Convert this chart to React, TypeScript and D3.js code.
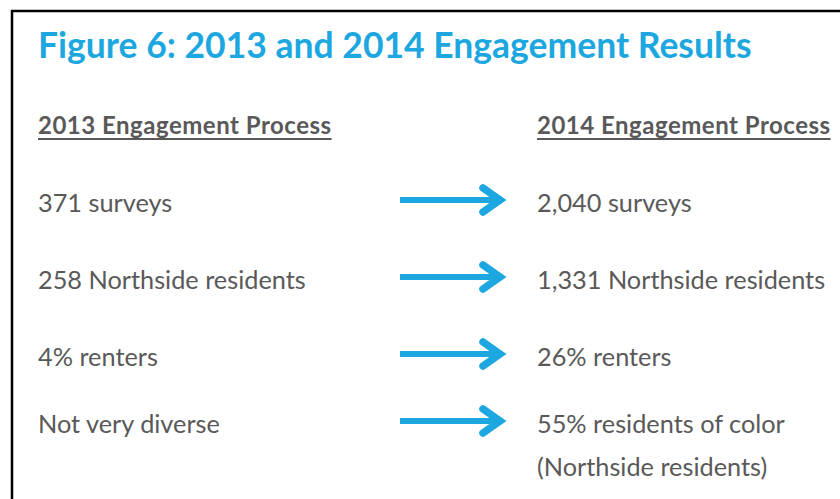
import React, { useEffect, useRef } from 'react';
import * as d3 from 'd3';

const title = 'Figure 6: 2013 and 2014 Engagement Results';
const headers = ['2013 Engagement Process', '2014 Engagement Process'];
const rows = ['surveys', 'residents', 'renters', 'diversity'];
const before2013 = ['371 surveys', '258 Northside residents', '4% renters', 'Not very diverse'];
const after2014 = [
  ['2,040 surveys'],
  ['1,331 Northside residents'],
  ['26% renters'],
  ['55% residents of color', '(Northside residents)'],
];

const W = 840;
const H = 499;
const BLUE = '#1ca7e0';
const GRAY = '#595959';
const FONT = 'Lato, "Open Sans", sans-serif';

const App = () => {
  const ref = useRef<SVGSVGElement>(null);

  useEffect(() => {
    const svg = d3.select(ref.current);
    svg.selectAll('*').remove();

    // frame: top and left edges only
    svg.append('path')
      .attr('d', `M12,${H} L12,11 L${W},11`)
      .attr('fill', 'none')
      .attr('stroke', '#000')
      .attr('stroke-width', 2.5);

    svg.append('text')
      .attr('x', 38)
      .attr('y', 58)
      .attr('fill', BLUE)
      .attr('font-family', FONT)
      .attr('font-weight', 700)
      .attr('font-size', 35.5)
      .text(title);

    const col = d3.scaleOrdinal<number, number>().domain([0, 1]).range([38, 537]);

    // column headers, underlined
    headers.forEach((h, i) => {
      const t = svg.append('text')
        .attr('x', col(i))
        .attr('y', 134)
        .attr('fill', GRAY)
        .attr('font-family', FONT)
        .attr('font-weight', 700)
        .attr('font-size', 24)
        .attr('letter-spacing', 0.5)
        .text(h);
      const w = (t.node() as SVGTextElement).getComputedTextLength();
      svg.append('line')
        .attr('x1', col(i)).attr('x2', col(i) + w)
        .attr('y1', 139).attr('y2', 139)
        .attr('stroke', GRAY)
        .attr('stroke-width', 1.8);
    });

    const rowY = d3.scaleOrdinal<string, number>().domain(rows).range([212, 289, 366, 433]);
    const lineGap = 43;

    rows.forEach((r, i) => {
      const y = rowY(r);
      svg.append('text')
        .attr('x', col(0)).attr('y', y)
        .attr('fill', GRAY)
        .attr('font-family', FONT)
        .attr('font-size', 25.3)
        .text(before2013[i]);

      after2014[i].forEach((line, j) => {
        svg.append('text')
          .attr('x', col(1)).attr('y', y + j * lineGap)
          .attr('fill', GRAY)
          .attr('font-family', FONT)
          .attr('font-size', 25.3)
          .text(line);
      });

      // arrow
      const ay = y - 12;
      const g = svg.append('g').attr('fill', BLUE).attr('stroke', BLUE);
      g.append('rect')
        .attr('x', 400).attr('y', ay - 3)
        .attr('width', 98).attr('height', 6)
        .attr('stroke', 'none');
      g.append('path')
        .attr('d', `M483,${ay - 12} L500,${ay} L483,${ay + 12}`)
        .attr('fill', 'none')
        .attr('stroke-width', 7.5)
        .attr('stroke-linecap', 'round')
        .attr('stroke-linejoin', 'miter');
    });
  }, []);

  return (
    <svg
      ref={ref}
      width={W}
      height={H}
      style={{ position: 'absolute', left: 0, top: 0, background: '#fff' }}
    />
  );
};

export default App;
